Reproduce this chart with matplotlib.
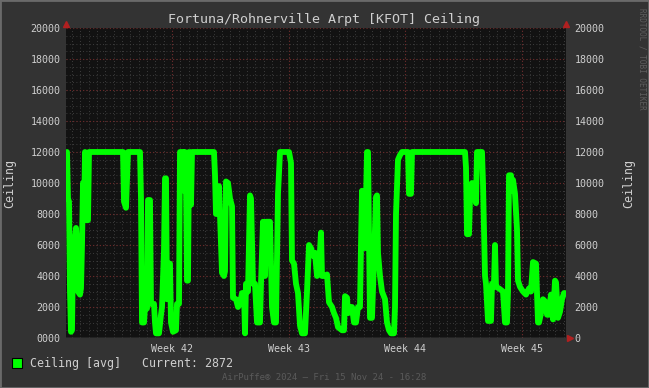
import matplotlib
matplotlib.use("Agg")
import matplotlib.pyplot as plt
import numpy as np
from matplotlib.patches import Rectangle

# time in days since start of graph, ceiling in feet
days_a = [0.06, 0.12, 0.18, 0.24, 0.30, 0.36, 0.42, 0.48, 0.54, 0.60,
          0.66, 0.72, 0.84, 0.90, 0.96, 1.02, 1.08, 1.14, 1.20, 1.32,
          1.38, 3.42, 3.48, 3.60, 3.72, 4.44]
ceil_a = [12000, 9000, 8800, 3000, 400, 500, 5500, 3200, 6500, 7100,
          6000, 3000, 2800, 3200, 6000, 10000, 7600, 12000, 7600, 7600,
          12000, 12000, 8800, 8400, 12000, 12000]

days_b = [4.50, 4.56, 4.68, 4.74, 4.86, 4.92, 5.04, 5.10, 5.28, 5.34,
          5.40, 5.58, 5.70, 5.76, 5.88, 5.94, 6.00, 6.06, 6.12, 6.24,
          6.30, 6.42, 6.60, 6.66, 6.78, 6.84, 7.02, 7.08, 7.14, 7.20,
          7.26, 7.32, 7.38, 7.44, 7.50, 7.56, 8.88]
ceil_b = [9000, 1000, 1000, 2000, 1900, 8900, 8900, 2200, 2200, 1000,
          300, 300, 1500, 2000, 5700, 10300, 10300, 2500, 4800, 4800,
          1000, 400, 500, 2200, 2200, 12000, 12000, 9500, 12000, 10000,
          3700, 3700, 12000, 9000, 8600, 12000, 12000]

days_c = [8.94, 9.00, 9.12, 9.18, 9.24, 9.36, 9.48, 9.54, 9.60, 9.72,
          9.84, 9.96, 10.02, 10.20, 10.32, 10.44, 10.56, 10.68, 10.74, 10.80,
          10.92, 10.98, 11.04, 11.10, 11.22, 11.34, 11.46, 11.64, 11.70, 11.82,
          11.94, 12.00, 12.24, 12.36, 12.48, 12.60, 12.66, 12.72, 12.84, 13.38]
ceil_c = [10500, 8000, 8000, 9800, 8000, 4200, 4000, 4300, 10100, 10000,
          9000, 8500, 2600, 2500, 2000, 2200, 2900, 2900, 300, 3500,
          3000, 6000, 9200, 9000, 3500, 3500, 1000, 1000, 3500, 7500,
          4000, 7500, 7500, 2000, 1000, 1000, 5000, 9300, 12000, 12000]

days_d = [13.50, 13.56, 13.68, 13.80, 13.92, 14.04, 14.16, 14.34, 14.46, 14.58,
          14.70, 14.82, 14.94, 15.06, 15.18, 15.30, 15.36, 15.54, 15.66, 15.78,
          15.96, 16.08, 16.20, 16.32, 16.56, 16.68, 16.74, 16.86, 16.92, 17.04,
          17.16, 17.28, 17.40, 17.52, 17.64, 17.70, 17.76, 17.82, 17.94, 18.06,
          18.12, 18.24, 18.36, 18.48, 18.60, 18.66, 18.72, 18.84, 18.96, 19.14,
          19.26, 19.38, 19.50, 19.68, 19.74, 19.80, 19.92, 20.04]
ceil_d = [11300, 5000, 4800, 3500, 2900, 800, 300, 300, 3000, 6000,
          5800, 5300, 5500, 4000, 4500, 6800, 4000, 4000, 4100, 2300,
          2000, 1600, 1300, 700, 500, 500, 2700, 2600, 1600, 2000,
          2000, 1000, 1000, 2000, 2000, 6000, 9500, 6000, 5800, 12000,
          12000, 1300, 1300, 5000, 9100, 9200, 5500, 4000, 3000, 2500,
          1000, 500, 300, 300, 2000, 8000, 11500, 11800]

days_e = [20.16, 20.52, 20.58, 20.70, 20.76, 23.94, 24.00, 24.06, 24.18, 24.24,
          24.36, 24.42, 24.54, 24.60, 24.66, 24.96, 25.02, 25.14, 25.20, 25.32,
          25.50, 25.56, 25.68, 25.74, 25.80, 25.98, 26.22, 26.34, 26.46, 26.52,
          26.58, 26.70, 26.76, 26.82, 26.94, 27.06, 27.12, 27.24, 27.42, 27.60,
          27.78, 27.90, 28.02, 28.20, 28.32, 28.38, 28.50, 28.62, 28.80, 28.86,
          28.98, 29.10, 29.16, 29.22, 29.34, 29.40, 29.52, 29.64, 29.76, 29.88,
          29.94]
ceil_e = [12000, 12000, 9300, 9300, 12000, 12000, 11000, 6700, 6700, 9000,
          10000, 9000, 9000, 8700, 12000, 12000, 10000, 4000, 3500, 1100,
          1100, 3500, 3500, 6000, 3300, 3200, 3000, 1000, 1000, 3000,
          10500, 10500, 9500, 10200, 9300, 7000, 3700, 3300, 3000, 2800,
          3200, 3000, 4900, 4800, 1000, 1000, 1600, 2500, 2300, 1500,
          1500, 2800, 2300, 1200, 3700, 3600, 1300, 1700, 2500, 2900,
          2900]

week_pos = [6.36, 13.36, 20.36, 27.36]
week_labels = ["Week 42", "Week 43", "Week 44", "Week 45"]
current = 2872

days = days_a + days_b + days_c + days_d + days_e
ceiling = ceil_a + ceil_b + ceil_c + ceil_d + ceil_e

BG = "#333333"
CANVAS = "#121212"
TXT = "#cfcfcf"
GRID = "#4a4a4a"
MGRID = "#6e2828"
GREEN = "#00ff00"
MONO = "DejaVu Sans Mono"

fig = plt.figure(figsize=(6.49, 3.88), dpi=100, facecolor=BG)
ax = fig.add_axes([66 / 649, 50 / 388, 500 / 649, 310 / 388])
ax.set_facecolor(CANVAS)
ax.set_xlim(0, 30)
ax.set_ylim(0, 20000)

# grid: minor every 12 h / 500 ft, major at week start / 2000 ft
for v in np.arange(week_pos[0] % 0.5, 30, 0.5):
    ax.axvline(v, color=GRID, lw=0.6, ls=(0, (1, 3)), zorder=1)
for v in np.arange(500, 20000, 500):
    ax.axhline(v, color=GRID, lw=0.6, ls=(0, (1, 3)), zorder=1)
for v in week_pos:
    ax.axvline(v, color=MGRID, lw=0.8, ls=(0, (1, 2)), zorder=1.5)
for v in np.arange(2000, 20001, 2000):
    ax.axhline(v, color=MGRID, lw=0.8, ls=(0, (1, 2)), zorder=1.5)

ax.plot(days, ceiling, color=GREEN, lw=4.2, solid_joinstyle="round",
        solid_capstyle="round", zorder=3)

for s in ax.spines.values():
    s.set_visible(False)
ax.axhline(0, color="#6a6a6a", lw=1.0, zorder=4)

yt = np.arange(0, 20001, 2000)
ax.set_yticks(yt)
ax.set_yticklabels(["0000"] + [str(v) for v in yt[1:]])
ax.set_xticks(week_pos)
ax.set_xticklabels(week_labels)
ax.tick_params(colors=TXT, labelsize=7.2, length=0, pad=4)
for lab in ax.get_xticklabels() + ax.get_yticklabels():
    lab.set_fontfamily(MONO)
    lab.set_color(TXT)

ax2 = ax.twinx()
ax2.set_ylim(0, 20000)
ax2.set_yticks(yt)
ax2.set_yticklabels([str(v) for v in yt])
ax2.tick_params(colors=TXT, labelsize=7.2, length=0, pad=6)
for lab in ax2.get_yticklabels():
    lab.set_fontfamily(MONO)
for s in ax2.spines.values():
    s.set_visible(False)

# red arrow heads
ax.plot([0], [1.013], marker="^", color="#b02020", ms=4, transform=ax.transAxes, clip_on=False)
ax.plot([1], [1.013], marker="^", color="#b02020", ms=4, transform=ax.transAxes, clip_on=False)
ax.plot([1.008], [0], marker=">", color="#b02020", ms=4, transform=ax.transAxes, clip_on=False)

fig.text(0.5, 1 - 20 / 388, "Fortuna/Rohnerville Arpt [KFOT] Ceiling", ha="center",
         va="center", color=TXT, fontsize=9.6, family=MONO)
fig.text(10 / 649, 1 - 183 / 388, "Ceiling", rotation=90, ha="center", va="center",
         color=TXT, fontsize=8.4, family=MONO)
fig.text(629 / 649, 1 - 183 / 388, "Ceiling", rotation=90, ha="center", va="center",
         color=TXT, fontsize=8.4, family=MONO)
fig.text(642 / 649, 1 - 8 / 388, "RRDTOOL / TOBI OETIKER", rotation=270, ha="center",
         va="top", color="#5e5e5e", fontsize=5.5, family=MONO)

fig.patches.append(Rectangle((12 / 649, 1 - 368 / 388), 10 / 649, 10 / 388,
                             transform=fig.transFigure, facecolor=GREEN,
                             edgecolor="black", lw=0.8))
fig.text(30 / 649, 1 - 363 / 388, f"Ceiling [avg]   Current: {current}", ha="left",
         va="center", color=TXT, fontsize=8.4, family=MONO)
fig.text(0.5, 1 - 377 / 388, "AirPuffe\u00ae 2024 \u2014 Fri 15 Nov 24 - 16:28", ha="center",
         va="center", color="#5a5a5a", fontsize=6.5, family=MONO)

# light outer frame
fig.patches.append(Rectangle((0, 0), 1, 1, transform=fig.transFigure, fill=False,
                             edgecolor="#6a6a6a", lw=2.0))

fig.savefig("out.png", dpi=100, facecolor=BG)
